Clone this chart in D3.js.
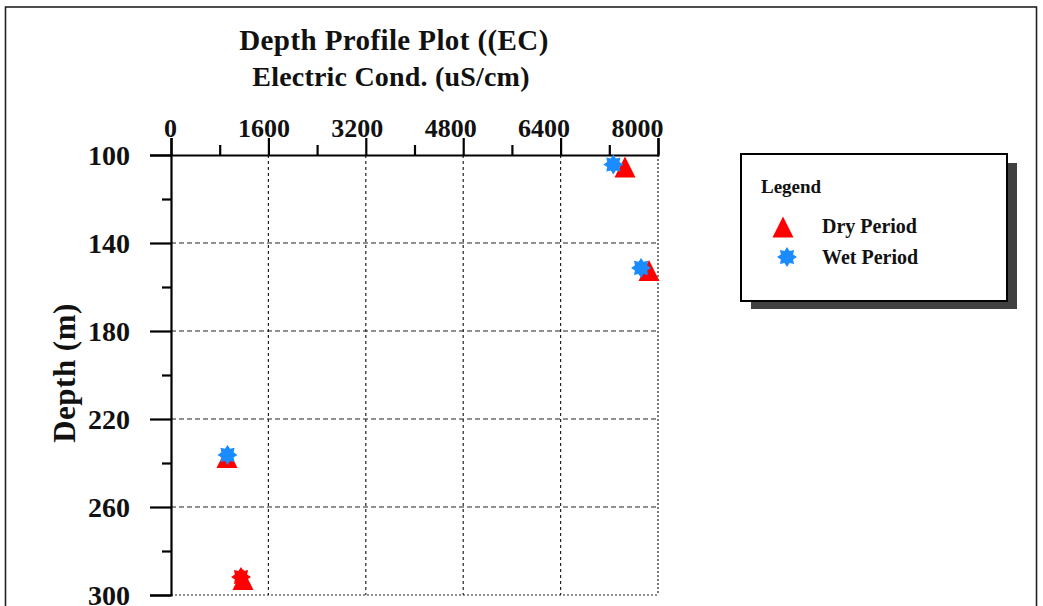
<!DOCTYPE html>
<html>
<head>
<meta charset="utf-8">
<script src="https://cdn.jsdelivr.net/npm/d3@7/dist/d3.min.js"></script>
<style>
  html, body { margin: 0; padding: 0; background: #fff; }
  svg { display: block; }
  text { font-family: "Liberation Serif", "Times New Roman", serif; font-weight: bold; fill: #111; }
</style>
</head>
<body>
<svg id="chart" width="1043" height="606"></svg>
<script>
// Electric conductivity (uS/cm) against borehole depth (m)
const depths = [105, 152, 237, 292.5];
const dryEC = [7458, 7852, 920, 1183];
const wetEC = [7266, 7721, 928, 1150];
const seriesNames = ["Dry Period", "Wet Period"];
const xTicks = [0, 1600, 3200, 4800, 6400, 8000];
const yTicks = [100, 140, 180, 220, 260, 300];

const svg = d3.select("#chart");

const x = d3.scaleLinear().domain([0, 8000]).range([171, 658]);
const y = d3.scaleLinear().domain([100, 300]).range([155, 595]);
// tick labels sit on a slightly tighter spacing than the tick marks
const xLabel = d3.scaleLinear().domain([0, 8000]).range([170, 637]);

const RED = "#ff0000", BLUE = "#1a8cff";

// page frame
svg.append("rect").attr("x", 5.5).attr("y", 7).attr("width", 1031).attr("height", 640)
  .attr("fill", "none").attr("stroke", "#222").attr("stroke-width", 1.6);

// titles
svg.append("text").attr("x", 394).attr("y", 50).attr("text-anchor", "middle")
  .style("font-size", "29px").style("letter-spacing", "0.4px").text("Depth Profile Plot ((EC)");
svg.append("text").attr("x", 391).attr("y", 86).attr("text-anchor", "middle")
  .style("font-size", "28px").style("letter-spacing", "0.2px").text("Electric Cond. (uS/cm)");

// grid lines
const grid = svg.append("g");
grid.selectAll(".vg").data(xTicks.slice(1)).join("line")
  .attr("x1", d => x(d)).attr("x2", d => x(d))
  .attr("y1", y(100)).attr("y2", y(300))
  .attr("stroke", "#222").attr("stroke-width", 1.2)
  .attr("stroke-dasharray", d => d === 8000 ? "2,2" : "3,3");
grid.selectAll(".hg").data(yTicks.slice(1)).join("line")
  .attr("x1", x(0)).attr("x2", x(8000))
  .attr("y1", d => y(d)).attr("y2", d => y(d))
  .attr("stroke", "#222").attr("stroke-width", 1.2)
  .attr("stroke-dasharray", d => d === 300 ? "2,2" : "5,3");

// top axis: major and minor ticks, then labels
const xMinor = d3.range(800, 8000, 1600);
svg.append("g").attr("transform", `translate(0,${y(100)})`)
  .call(d3.axisTop(x).tickValues(xTicks).tickSize(17).tickFormat(""));
svg.append("g").attr("transform", `translate(0,${y(100)})`)
  .call(d3.axisTop(x).tickValues(xMinor).tickSize(10).tickFormat("")).select(".domain").remove();
svg.selectAll("g .domain").attr("stroke", "#000").attr("stroke-width", 2.2);
svg.selectAll("g .tick line").attr("stroke", "#000").attr("stroke-width", 2.2);
const gTopLab = svg.append("g").attr("transform", "translate(0,137)")
  .call(d3.axisTop(xLabel).tickValues(xTicks).tickSize(0).tickPadding(0).tickFormat(d3.format("d")));
gTopLab.select(".domain").remove();
gTopLab.selectAll("text").style("font-size", "26px").attr("fill", "#111");

// left axis
const yMinor = d3.range(120, 300, 40);
const gLeft = svg.append("g").attr("transform", `translate(${x(0)},0)`)
  .call(d3.axisLeft(y).tickValues(yTicks).tickSize(21).tickFormat(""));
const gLeftMinor = svg.append("g").attr("transform", `translate(${x(0)},0)`)
  .call(d3.axisLeft(y).tickValues(yMinor).tickSize(9).tickFormat(""));
gLeftMinor.select(".domain").remove();
[gLeft, gLeftMinor].forEach(g => {
  g.select(".domain").attr("stroke", "#000").attr("stroke-width", 2.2);
  g.selectAll(".tick line").attr("stroke", "#000").attr("stroke-width", 2.2);
});
const gLeftLab = svg.append("g").attr("transform", "translate(130,0)")
  .call(d3.axisLeft(y).tickValues(yTicks).tickSize(0).tickPadding(0).tickFormat(d3.format("d")));
gLeftLab.select(".domain").remove();
gLeftLab.selectAll("text").style("font-size", "28px").attr("fill", "#111")
  .attr("text-anchor", "end").attr("dy", "0.34em");

// axis title
svg.append("text").attr("transform", "translate(75,373) rotate(-90)")
  .attr("text-anchor", "middle").style("font-size", "31px").style("letter-spacing", "0.5px").text("Depth (m)");

// marker shapes
const TRI = 21;
function trianglePath(s) {
  return `M0,${-s / 2}L${s / 2},${s / 2}L${-s / 2},${s / 2}Z`;
}
function starPath(r, ri, n) {
  const pts = [];
  for (let i = 0; i < n * 2; i++) {
    const a = Math.PI * i / n - Math.PI / 2;
    const rr = i % 2 === 0 ? r : ri;
    pts.push([rr * Math.cos(a), rr * Math.sin(a)]);
  }
  return "M" + pts.map(p => p[0].toFixed(2) + "," + p[1].toFixed(2)).join("L") + "Z";
}
const STAR = starPath(10, 6.6, 8);

const dry = depths.map((d, i) => ({ depth: d, ec: dryEC[i] }));
const wet = depths.map((d, i) => ({ depth: d, ec: wetEC[i] }));

svg.append("g").selectAll("path").data(dry).join("path")
  .attr("d", trianglePath(TRI))
  .attr("transform", d => `translate(${x(d.ec)},${y(d.depth) + 1})`)
  .attr("fill", RED);

// the deepest wet-period reading is drawn in the dry-period colour
svg.append("g").selectAll("path").data(wet).join("path")
  .attr("d", STAR)
  .attr("transform", d => `translate(${x(d.ec)},${y(d.depth) - 1.5})`)
  .attr("fill", (d, i) => i === wet.length - 1 ? RED : BLUE);

// legend box with drop shadow
const lg = svg.append("g");
lg.append("rect").attr("x", 751).attr("y", 163).attr("width", 266).attr("height", 146).attr("fill", "#404040");
lg.append("rect").attr("x", 741).attr("y", 154).attr("width", 266).attr("height", 147)
  .attr("fill", "#fff").attr("stroke", "#000").attr("stroke-width", 2);
lg.append("text").attr("x", 761).attr("y", 193).style("font-size", "19px").text("Legend");
lg.append("path").attr("d", trianglePath(TRI)).attr("transform", "translate(783,227)").attr("fill", RED);
lg.append("path").attr("d", STAR).attr("transform", "translate(787,257)").attr("fill", BLUE);
lg.append("text").attr("x", 822).attr("y", 233).style("font-size", "20px").text(seriesNames[0]);
lg.append("text").attr("x", 822).attr("y", 264).style("font-size", "20px").text(seriesNames[1]);
</script>
</body>
</html>
